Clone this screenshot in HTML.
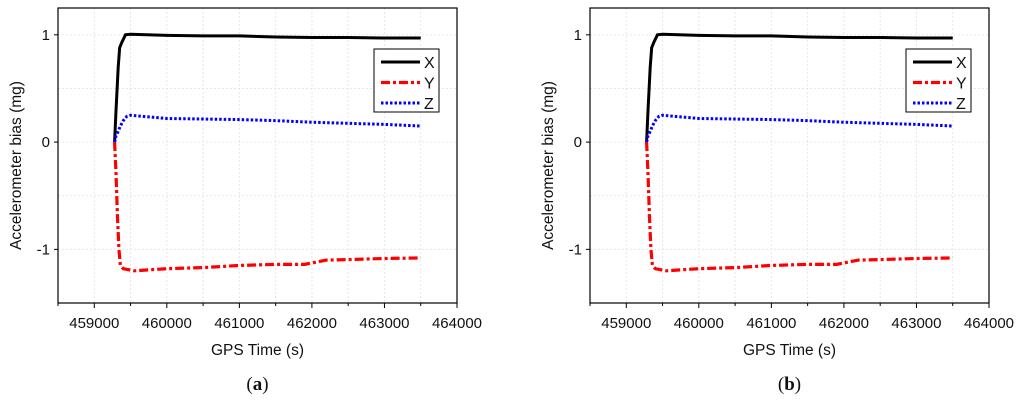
<!DOCTYPE html>
<html><head><meta charset="utf-8"><style>
body{margin:0;background:#fff;width:1024px;height:401px;overflow:hidden}
svg text{font-family:"Liberation Sans",sans-serif;fill:#111}
</style></head><body>
<svg id="fig" width="1024" height="401" xmlns="http://www.w3.org/2000/svg"></svg>
<script>
const xTicks=[459000,460000,461000,462000,463000,464000];
const yTicks=[1,0,-1];
const xT=[459280,459300,459330,459350,459380,459430,459500,460000,460500,461000,461500,462000,462500,463000,463500];
const xVals=[0,0.3,0.7,0.88,0.93,1.0,1.005,0.995,0.99,0.99,0.98,0.975,0.975,0.97,0.97];
const yT=[459280,459300,459320,459340,459360,459400,459550,460000,460500,461000,461500,461900,462200,462500,463000,463500];
const yVals=[0,-0.3,-0.7,-1.0,-1.15,-1.18,-1.2,-1.18,-1.17,-1.15,-1.14,-1.14,-1.1,-1.095,-1.085,-1.08];
const zT=[459280,459300,459330,459360,459400,459450,459500,460000,460500,461000,461500,462000,462500,463000,463500];
const zVals=[0,0.06,0.1,0.15,0.2,0.24,0.25,0.22,0.215,0.21,0.2,0.185,0.175,0.165,0.15];
const NS="http://www.w3.org/2000/svg";
const svg=document.getElementById('fig');
function mk(tag,attrs,parent){const e=document.createElementNS(NS,tag);for(const k in attrs)e.setAttribute(k,attrs[k]);(parent||svg).appendChild(e);return e;}
function chart(off,lab){
  const L=58+off,R=457+off,T=8,B=303;
  const sx=v=>L+(v-458500)/5500*(R-L);
  const sy=v=>T+(1.25-v)/2.75*(B-T);
  const g=mk('g',{});
  
  
  for(let v=459000;v<=463500;v+=500){const l=mk('line',{x1:sx(v),x2:sx(v),y1:T,y2:B,stroke:'#e6e6e6','stroke-dasharray':'2,2'},g);}
  for(let v=-1;v<=1;v+=0.5){const l=mk('line',{x1:L,x2:R,y1:sy(v),y2:sy(v),stroke:'#e6e6e6','stroke-dasharray':'2,2'},g);}
  const series=[[xT,xVals,'#000','', 3,'series-x'],[yT,yVals,'#f00','9,3,3,3',3.2,'series-y'],[zT,zVals,'#00f','2.5,2',3,'series-z']];
  for(const [ts,vs,c,d,w,n] of series){
    const p=mk('polyline',{points:ts.map((t,i)=>sx(t)+','+sy(vs[i])).join(' '),fill:'none',stroke:c,'stroke-width':w,'stroke-dasharray':d},g);
    
  }
  const fr=mk('rect',{x:L,y:T,width:R-L,height:B-T,fill:'none',stroke:'#000','stroke-width':1.2},g);
  
  for(let v=458500;v<=464000;v+=500){const big=v%1000===0;mk('line',{x1:sx(v),x2:sx(v),y1:B,y2:B+(big?5:3),stroke:'#000'},g);}
  for(const v of xTicks){const t=mk('text',{x:sx(v),y:B+25,'text-anchor':'middle','font-size':15},g);t.textContent=v;}
  for(const v of yTicks){const t=mk('text',{x:L-8,y:sy(v)+5,'text-anchor':'end','font-size':15},g);t.textContent=v;mk('line',{x1:L-4,x2:L,y1:sy(v),y2:sy(v),stroke:'#000'},g);}
  const xt=mk('text',{x:(L+R)/2,y:355,'text-anchor':'middle','font-size':15.5},g);xt.textContent='GPS Time (s)';
  const yt=mk('text',{x:0,y:0,'text-anchor':'middle','font-size':15.5,transform:`translate(${L-37},${(T+B)/2+10}) rotate(-90)`},g);yt.textContent='Accelerometer bias (mg)';
  const cap=mk('text',{x:(L+R)/2,y:390,'text-anchor':'middle','font-size':19,style:'font-family:"Liberation Serif",serif'},g);
  cap.innerHTML='(<tspan font-weight="bold">'+lab+'</tspan>)';
  const lg=mk('g',{},g);
  mk('rect',{x:374+off,y:49,width:65,height:63,fill:'#fff',stroke:'#000','stroke-width':1},lg);
  ['X','Y','Z'].forEach((n,i)=>{const yy=62+i*20.5;const s=series[i];
    mk('line',{x1:381+off,x2:420+off,y1:yy,y2:yy,stroke:s[2],'stroke-width':s[4],'stroke-dasharray':s[3]},lg);
    const t=mk('text',{x:424+off,y:yy+6,'font-size':16},lg);t.textContent=n;});
}
chart(0,'a');chart(532,'b');
</script>
</body></html>
